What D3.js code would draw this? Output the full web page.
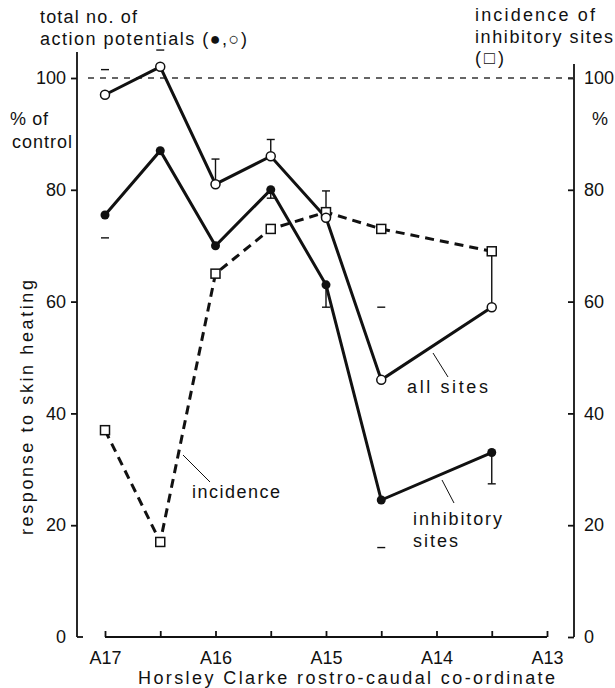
<!DOCTYPE html>
<html lang="en">
<head>
<meta charset="utf-8">
<title>Response to skin heating</title>
<style>
  body { margin: 0; background: #fff; }
  svg text { font-family: "Liberation Sans", Arial, sans-serif; font-size: 18px; fill: #111; }
  .axis path, .axis line { stroke: #111; stroke-width: 1.8px; }
  .axis text { font-size: 18px; }
</style>
</head>
<body>
<div id="chart"></div>
<script src="https://cdn.jsdelivr.net/npm/d3@7"></script>
<script>
// rostro-caudal positions (A17 ... A13.5)
var positions = [17, 16.5, 16, 15.5, 15, 14.5, 13.5];
var allSites = [97, 102, 81, 86, 75, 46, 59];          // open circles
var inhibSites = [75.5, 87, 70, 80, 63, 24.5, 33];     // filled circles
var incidence = [37, 17, 65, 73, 76, 73, 69];         // squares
// error bar ends (null = none), and whether only the cap survived in print
var allErr = [101.5, 105, 85.5, 89, 79.8, 59, 69];
var allCapOnly = [true, true, false, false, false, true, false];
var inhibErr = [71.4, null, null, 78.5, 59, 16, 27.4];
var inhibCapOnly = [true, false, false, false, false, true, false];
var xTicks = [17, 16.5, 16, 15.5, 15, 14.5, 14, 13.5, 13];
var yTicks = [0, 20, 40, 60, 80, 100];

var svg = d3.select("#chart").append("svg")
  .attr("width", 615)
  .attr("height", 688);

var x = d3.scaleLinear().domain([17, 13]).range([105, 547]);
var y = d3.scaleLinear().domain([0, 100]).range([637, 78]);

var leftX = 77, rightX = 574;

// left axis
var gl = svg.append("g").attr("class", "axis")
  .attr("transform", "translate(" + leftX + ",0)")
  .call(d3.axisLeft(y).tickValues(yTicks).tickSizeInner(6).tickSizeOuter(0).tickPadding(5));
gl.select(".domain").remove();
gl.append("line").attr("x1", 0).attr("x2", 0).attr("y1", 52).attr("y2", y(0));
gl.append("line").attr("x1", 0).attr("x2", 6).attr("y1", y(0)).attr("y2", y(0));
gl.selectAll(".tick").filter(function(d) { return d === 0; }).select("line").remove();

// right axis, ticks pointing inwards
var gr = svg.append("g").attr("class", "axis")
  .attr("transform", "translate(" + rightX + ",0)")
  .call(d3.axisRight(y).tickValues(yTicks).tickSizeInner(-6).tickSizeOuter(0).tickPadding(10));
gr.select(".domain").remove();
gr.append("line").attr("x1", 0).attr("x2", 0).attr("y1", 64).attr("y2", y(0));

// bottom axis, ticks pointing up
var gb = svg.append("g").attr("class", "axis")
  .attr("transform", "translate(0," + y(0) + ")")
  .call(d3.axisBottom(x).tickValues(xTicks).tickSizeInner(-6).tickSizeOuter(0).tickPadding(14)
    .tickFormat(function(d) { return d % 1 === 0 ? "A" + d : ""; }));
gb.select(".domain").remove();
gb.append("line").attr("x1", x(17)).attr("x2", x(13)).attr("y1", 0).attr("y2", 0);

// 100 % control reference
svg.append("line")
  .attr("x1", 88).attr("x2", rightX)
  .attr("y1", y(100)).attr("y2", y(100))
  .style("stroke", "#333").style("stroke-width", 1.3)
  .style("stroke-dasharray", "6,6");

var line = function(vals) {
  return d3.line().x(function(d, i) { return x(positions[i]); }).y(function(d) { return y(d); })(vals);
};

// error bars
function errorBars(vals, errs, capOnly) {
  errs.forEach(function(e, i) {
    if (e === null) return;
    var cx = x(positions[i]);
    if (!capOnly[i]) {
      svg.append("line").attr("x1", cx).attr("x2", cx)
        .attr("y1", y(vals[i])).attr("y2", y(e))
        .style("stroke", "#111").style("stroke-width", 1.4);
    }
    svg.append("line").attr("x1", cx - 4).attr("x2", cx + 4)
      .attr("y1", y(e)).attr("y2", y(e))
      .style("stroke", "#111").style("stroke-width", 1.4);
  });
}
errorBars(allSites, allErr, allCapOnly);
errorBars(inhibSites, inhibErr, inhibCapOnly);

// incidence (dashed)
svg.append("path").attr("d", line(incidence))
  .style("fill", "none").style("stroke", "#111").style("stroke-width", 3)
  .style("stroke-dasharray", "9,6");
svg.append("path").attr("d", line(allSites))
  .style("fill", "none").style("stroke", "#111").style("stroke-width", 3);
svg.append("path").attr("d", line(inhibSites))
  .style("fill", "none").style("stroke", "#111").style("stroke-width", 3);

svg.selectAll(".sq").data(incidence).enter().append("rect")
  .attr("x", function(d, i) { return x(positions[i]) - 4.5; })
  .attr("y", function(d) { return y(d) - 4.5; })
  .attr("width", 9).attr("height", 9)
  .style("fill", "#fff").style("stroke", "#111").style("stroke-width", 1.5);

svg.selectAll(".open").data(allSites).enter().append("circle")
  .attr("cx", function(d, i) { return x(positions[i]); })
  .attr("cy", function(d) { return y(d); })
  .attr("r", 4.5)
  .style("fill", "#fff").style("stroke", "#111").style("stroke-width", 1.5);

svg.selectAll(".filled").data(inhibSites).enter().append("circle")
  .attr("cx", function(d, i) { return x(positions[i]); })
  .attr("cy", function(d) { return y(d); })
  .attr("r", 4.5)
  .style("fill", "#111");

// labels, stretched to the widths of the original lettering
function label(tx, ty, str, len) {
  return svg.append("text").attr("x", tx).attr("y", ty)
    .attr("textLength", len).attr("lengthAdjust", "spacing")
    .text(str);
}
label(40, 23, "total no. of", 97);
label(40, 45, "action potentials (\u25CF,\u25CB)", 207);
label(475, 21, "incidence of", 120);
label(475, 43, "inhibitory sites", 138);
label(475, 64, "(\u25A1)", 29);
label(10, 125, "% of", 38);
label(12, 148, "control", 60);
label(592, 125, "%", 17);

svg.append("text")
  .attr("transform", "translate(33,535) rotate(-90)")
  .attr("textLength", 255).attr("lengthAdjust", "spacing")
  .text("response to skin heating");

label(138, 684, "Horsley Clarke rostro-caudal co-ordinate", 417);

label(407, 393, "all sites", 81);
label(192, 498, "incidence", 88);
label(413, 525, "inhibitory", 89);
label(413, 547, "sites", 45);

// leader lines
var leaders = [[433, 353, 448, 377], [183, 455, 210, 482], [442, 480, 454, 503]];
leaders.forEach(function(l) {
  svg.append("line").attr("x1", l[0]).attr("y1", l[1]).attr("x2", l[2]).attr("y2", l[3])
    .style("stroke", "#111").style("stroke-width", 1);
});
</script>
</body>
</html>
